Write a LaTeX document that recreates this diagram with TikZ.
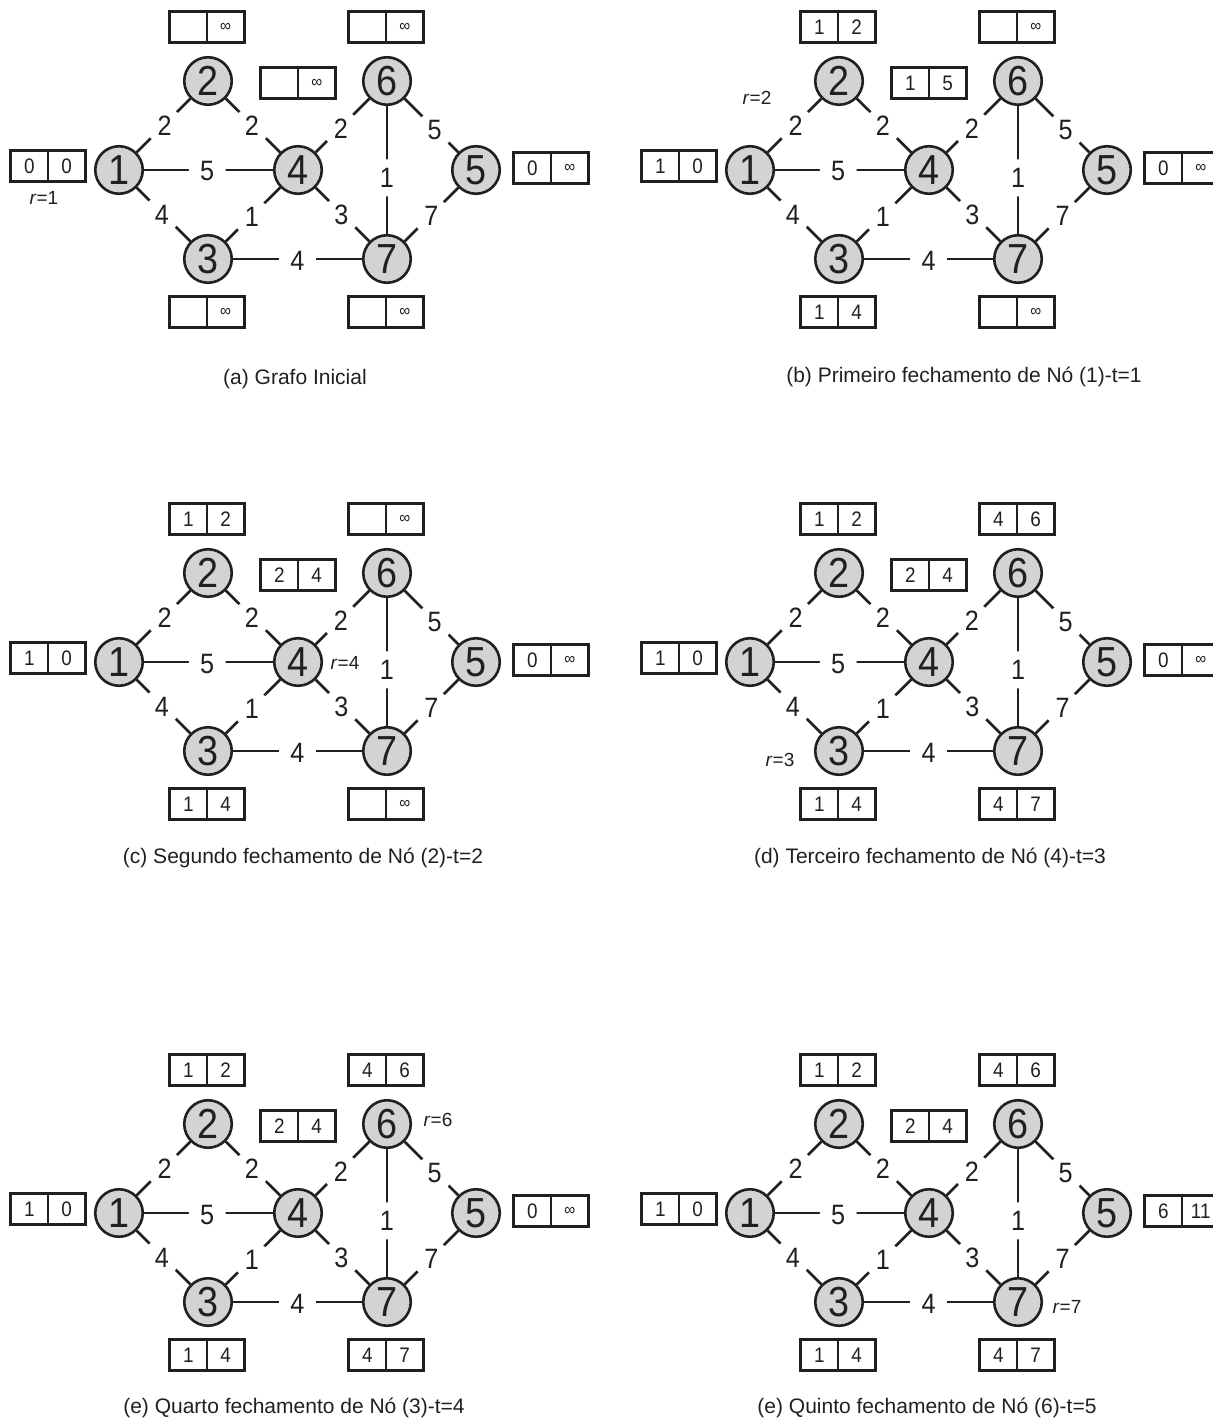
\documentclass[tikz,border=0pt]{standalone}
\usepackage{fontspec}
\setmainfont{Liberation Sans}
\newfontfamily\condfont[FakeStretch=0.9]{Liberation Sans}
\usetikzlibrary{calc}
\definecolor{ink}{HTML}{231F20}
\definecolor{vfill}{HTML}{D1D3D4}
\newcommand\infy{{\fontsize{17}{17}\selectfont ∞}}
\tikzset{
 vtx/.style={circle, draw=ink, fill=vfill, line width=2.6pt, minimum size=47.5pt, inner sep=0pt, font=\condfont\fontsize{42}{42}\selectfont, text=ink},
 edgeline/.style={draw=ink, line width=2.6pt},
 elab/.style={circle, fill=white, minimum size=37pt, inner sep=0pt, font=\condfont\fontsize{28}{28}\selectfont, text=ink, yshift=-1.5pt},
 cell/.style={minimum width=37pt, minimum height=30pt, inner sep=0pt, font=\condfont\fontsize{21}{21}\selectfont, text=ink},
 boxline/.style={draw=ink, line width=2.8pt},
 divline/.style={draw=ink, line width=1.8pt},
 rlab/.style={font=\fontsize{19}{19}\selectfont, text=ink, inner sep=0pt},
 captxt/.style={font=\fontsize{21}{21}\selectfont, text=ink, inner sep=0pt},
}
% value box: #1 name, #2 x, #3 y, #4 left, #5 right
\newcommand\valbox[5]{%
 \node[cell, anchor=east] (#1l) at (#2,#3) {#4};
 \node[cell, anchor=west] (#1r) at (#2,#3) {#5};
 \draw[boxline] (#1l.north west) rectangle (#1r.south east);
 \draw[divline] (#1l.north east) -- (#1l.south east);
}
% graph: #1 prefix
\newcommand\graphnodes[1]{%
 \node[vtx] (#1n1) at (119,170) {1};
 \node[vtx] (#1n2) at (208,81) {2};
 \node[vtx] (#1n3) at (208,259) {3};
 \node[vtx] (#1n4) at (298,170) {4};
 \node[vtx] (#1n5) at (476,170) {5};
 \node[vtx] (#1n6) at (387,81) {6};
 \node[vtx] (#1n7) at (387,259) {7};
 \draw[edgeline] (#1n1) -- node[elab, pos=0.52] {2} (#1n2);
 \draw[edgeline] (#1n2) -- node[elab, pos=0.48] {2} (#1n4);
 \draw[edgeline] (#1n4) -- node[elab, pos=0.47] {2} (#1n6);
 \draw[edgeline] (#1n6) -- node[elab, pos=0.56] {5} (#1n5);
 \draw[edgeline] (#1n1) -- node[elab, pos=0.49] {5} (#1n4);
 \draw[edgeline] (#1n6) -- node[elab, pos=0.55] {1} (#1n7);
 \draw[edgeline] (#1n1) -- node[elab, pos=0.47] {4} (#1n3);
 \draw[edgeline] (#1n3) -- node[elab, pos=0.48] {1} (#1n4);
 \draw[edgeline] (#1n4) -- node[elab, pos=0.48] {3} (#1n7);
 \draw[edgeline] (#1n7) -- node[elab, pos=0.5] {7} (#1n5);
 \draw[edgeline] (#1n3) -- node[elab, pos=0.5] {4} (#1n7);
}
\begin{document}
\begin{tikzpicture}[x=1pt,y=-1pt]
\fill[white] (0,0) rectangle (1212,1420);
\useasboundingbox (0,0) rectangle (1212,1420);

% (a)
\begin{scope}
 \graphnodes{a}
 \valbox{aT}{207}{27}{}{\infy}
 \valbox{aS}{386}{27}{}{\infy}
 \valbox{aM}{298}{83}{}{\infy}
 \valbox{aL}{48}{166}{0}{0}
 \valbox{aR}{551}{168}{0}{\infy}
 \valbox{aB}{207}{312}{}{\infy}
 \valbox{aC}{386}{312}{}{\infy}
 \node[rlab] (ar) at (44,198) {\textit{r}=1};
\end{scope}
\node[captxt] (acap) at (295,379) {(a) Grafo Inicial};

% (b)
\begin{scope}[shift={(631,0)}]
 \graphnodes{b}
 \valbox{bT}{207}{27}{1}{2}
 \valbox{bS}{386}{27}{}{\infy}
 \valbox{bM}{298}{83}{1}{5}
 \valbox{bL}{48}{166}{1}{0}
 \valbox{bR}{551}{168}{0}{\infy}
 \valbox{bB}{207}{312}{1}{4}
 \valbox{bC}{386}{312}{}{\infy}
 \node[rlab] (br) at (126,98) {\textit{r}=2};
\end{scope}
\node[captxt] (bcap) at (964,377) {(b) Primeiro fechamento de Nó (1)-t=1};

% (c)
\begin{scope}[shift={(0,492)}]
 \graphnodes{c}
 \valbox{cT}{207}{27}{1}{2}
 \valbox{cS}{386}{27}{}{\infy}
 \valbox{cM}{298}{83}{2}{4}
 \valbox{cL}{48}{166}{1}{0}
 \valbox{cR}{551}{168}{0}{\infy}
 \valbox{cB}{207}{312}{1}{4}
 \valbox{cC}{386}{312}{}{\infy}
 \node[rlab] (cr) at (345,171) {\textit{r}=4};
\end{scope}
\node[captxt] (ccap) at (303,858) {(c) Segundo fechamento de Nó (2)-t=2};

% (d)
\begin{scope}[shift={(631,492)}]
 \graphnodes{d}
 \valbox{dT}{207}{27}{1}{2}
 \valbox{dS}{386}{27}{4}{6}
 \valbox{dM}{298}{83}{2}{4}
 \valbox{dL}{48}{166}{1}{0}
 \valbox{dR}{551}{168}{0}{\infy}
 \valbox{dB}{207}{312}{1}{4}
 \valbox{dC}{386}{312}{4}{7}
 \node[rlab] (dr) at (149,268) {\textit{r}=3};
\end{scope}
\node[captxt] (dcap) at (930,858) {(d) Terceiro fechamento de Nó (4)-t=3};

% (e)
\begin{scope}[shift={(0,1043)}]
 \graphnodes{e}
 \valbox{eT}{207}{27}{1}{2}
 \valbox{eS}{386}{27}{4}{6}
 \valbox{eM}{298}{83}{2}{4}
 \valbox{eL}{48}{166}{1}{0}
 \valbox{eR}{551}{168}{0}{\infy}
 \valbox{eB}{207}{312}{1}{4}
 \valbox{eC}{386}{312}{4}{7}
 \node[rlab] (er) at (438,77) {\textit{r}=6};
\end{scope}
\node[captxt] (ecap) at (294,1408) {(e) Quarto fechamento de Nó (3)-t=4};

% (f)
\begin{scope}[shift={(631,1043)}]
 \graphnodes{f}
 \valbox{fT}{207}{27}{1}{2}
 \valbox{fS}{386}{27}{4}{6}
 \valbox{fM}{298}{83}{2}{4}
 \valbox{fL}{48}{166}{1}{0}
 \valbox{fR}{551}{168}{6}{11}
 \valbox{fB}{207}{312}{1}{4}
 \valbox{fC}{386}{312}{4}{7}
 \node[rlab] (fr) at (436,264) {\textit{r}=7};
\end{scope}
\node[captxt] (fcap) at (927,1408) {(e) Quinto fechamento de Nó (6)-t=5};
\end{tikzpicture}
\end{document}
